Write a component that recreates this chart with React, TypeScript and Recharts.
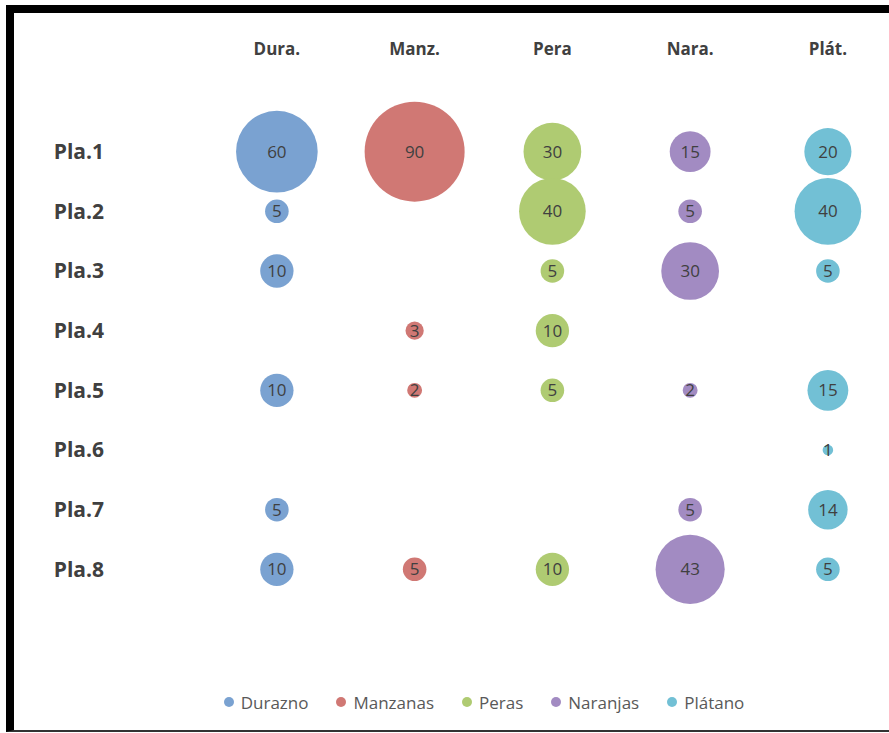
import { ScatterChart, Scatter, XAxis, YAxis, ZAxis, Legend, LabelList } from "recharts"

const columns = ["Dura.", "Manz.", "Pera", "Nara.", "Plát."]
const rows = ["Pla.1", "Pla.2", "Pla.3", "Pla.4", "Pla.5", "Pla.6", "Pla.7", "Pla.8"]

// one value per row (Pla.1 .. Pla.8), null = no bubble
const durazno = [60, 5, 10, null, 10, null, 5, 10]
const manzanas = [90, null, null, 3, 2, null, null, 5]
const peras = [30, 40, 5, 10, 5, null, null, 10]
const naranjas = [15, 5, 30, null, 2, null, 5, 43]
const platano = [20, 40, 5, null, 15, 1, 14, 5]

const seriesNames = ["Durazno", "Manzanas", "Peras", "Naranjas", "Plátano"]
const seriesValues = [durazno, manzanas, peras, naranjas, platano]
const COLORS = ["#7AA2D1", "#D07874", "#AFCB72", "#A28BC2", "#72C0D5"]

const FONT = "'Open Sans', 'Liberation Sans', sans-serif"
const TEXT = "#404040"

const buildData = (values: (number | null)[], col: number) =>
  values
    .map((v, j) => ({ x: col + 1, y: j + 1, z: v }))
    .filter((d) => d.z !== null)

const maxValue = Math.max(...seriesValues.flat().map((v) => v ?? 0))

const LegendContent = () => (
  <div
    style={{
      display: "flex",
      justifyContent: "center",
      alignItems: "center",
      height: 24,
      paddingLeft: 107,
      fontFamily: FONT,
      fontSize: 17,
      color: "#595959",
    }}
  >
    {seriesNames.map((name, i) => (
      <div key={name} style={{ display: "flex", alignItems: "center", marginRight: 28 }}>
        <span
          style={{
            width: 10,
            height: 10,
            borderRadius: "50%",
            background: COLORS[i],
            marginRight: 7,
            display: "inline-block",
          }}
        />
        <span>{name}</span>
      </div>
    ))}
  </div>
)

export default function App() {
  return (
    <div
      style={{
        position: "absolute",
        top: 0,
        left: 0,
        width: 889,
        height: 733,
        background: "#fff",
        overflow: "hidden",
      }}
    >
      <div
        style={{
          position: "absolute",
          top: 5,
          left: 6,
          width: 900,
          height: 727,
          boxSizing: "border-box",
          borderTop: "8px solid #000",
          borderLeft: "8px solid #000",
          borderBottom: "2px solid #333",
        }}
      />
      <div style={{ position: "absolute", top: 0, left: 0 }}>
        <ScatterChart width={889} height={733} margin={{ top: 0, right: 6, left: 58, bottom: 80 }}>
          <XAxis
            type="number"
            dataKey="x"
            orientation="top"
            domain={[0.5, 5.4]}
            allowDataOverflow
            ticks={[1, 2, 3, 4, 5]}
            tickFormatter={(v: number) => columns[v - 1]}
            axisLine={false}
            tickLine={false}
            tickSize={0}
            tickMargin={37}
            height={92}
            tick={{ fontSize: 17, fontWeight: "bold", fill: TEXT, fontFamily: FONT }}
          />
          <YAxis
            type="number"
            dataKey="y"
            domain={[0, 9]}
            reversed
            allowDataOverflow
            ticks={[1, 2, 3, 4, 5, 6, 7, 8]}
            tickFormatter={(v: number) => rows[v - 1]}
            axisLine={false}
            tickLine={false}
            tickSize={0}
            tickMargin={104}
            width={150}
            tick={{ fontSize: 21, fontWeight: "bold", fill: TEXT, fontFamily: FONT }}
          />
          <ZAxis type="number" dataKey="z" domain={[0, maxValue]} range={[0, Math.PI * 50 * 50]} />
          <Legend
            verticalAlign="bottom"
            content={<LegendContent />}
            wrapperStyle={{ bottom: 19, left: 0, width: 889 }}
          />
          {seriesNames.map((name, i) => (
            <Scatter
              key={name}
              name={name}
              data={buildData(seriesValues[i], i)}
              fill={COLORS[i]}
              shape="circle"
              isAnimationActive={false}
            >
              <LabelList
                dataKey="z"
                position="center"
                fill={TEXT}
                fontSize={17}
                fontFamily={FONT}
              />
            </Scatter>
          ))}
        </ScatterChart>
      </div>
    </div>
  )
}
